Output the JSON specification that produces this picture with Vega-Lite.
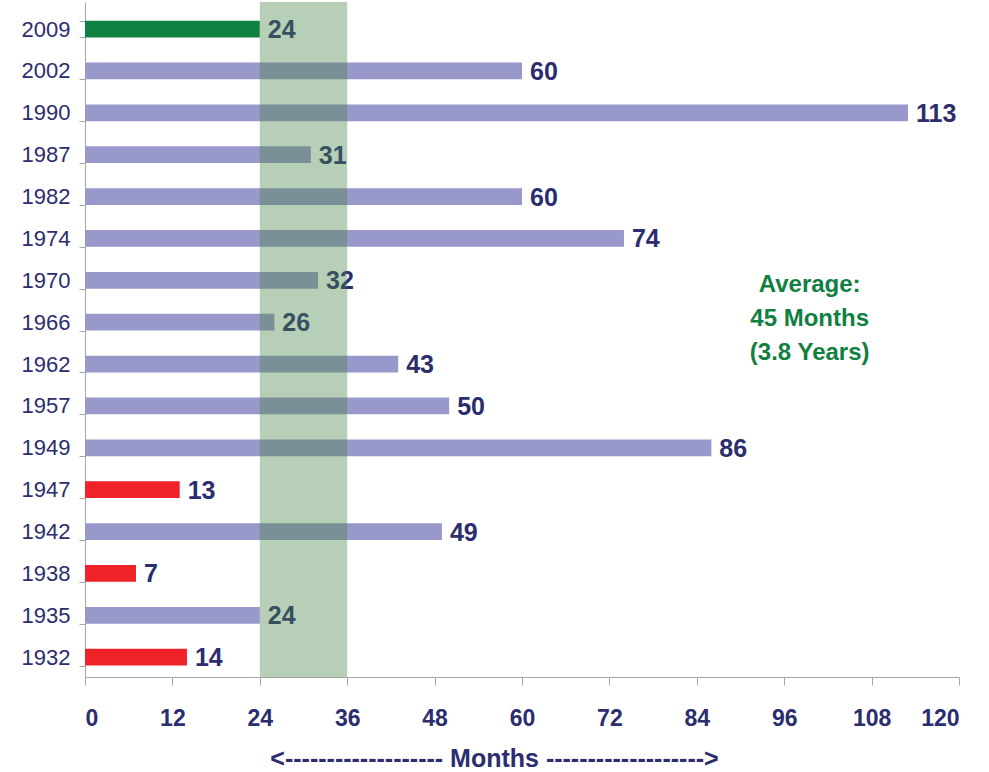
{
  "$schema": "https://vega.github.io/schema/vega-lite/v6.json",
  "autosize": "none",
  "width": 874,
  "height": 675,
  "padding": {"left": 85, "top": 2, "right": 30, "bottom": 95},
  "background": "white",
  "config": {
    "view": {"stroke": null},
    "font": "Liberation Sans"
  },
  "datasets": {
    "bars": [
      {"year": "2009", "months": 24, "kind": "current"},
      {"year": "2002", "months": 60, "kind": "normal"},
      {"year": "1990", "months": 113, "kind": "normal"},
      {"year": "1987", "months": 31, "kind": "normal"},
      {"year": "1982", "months": 60, "kind": "normal"},
      {"year": "1974", "months": 74, "kind": "normal"},
      {"year": "1970", "months": 32, "kind": "normal"},
      {"year": "1966", "months": 26, "kind": "normal"},
      {"year": "1962", "months": 43, "kind": "normal"},
      {"year": "1957", "months": 50, "kind": "normal"},
      {"year": "1949", "months": 86, "kind": "normal"},
      {"year": "1947", "months": 13, "kind": "short"},
      {"year": "1942", "months": 49, "kind": "normal"},
      {"year": "1938", "months": 7, "kind": "short"},
      {"year": "1935", "months": 24, "kind": "normal"},
      {"year": "1932", "months": 14, "kind": "short"}
    ],
    "band": [{"start": 24, "end": 36}],
    "note": [{"year": "1966", "months": 99.5, "text": "Average:\n45 Months\n(3.8 Years)"}]
  },
  "encoding": {
    "y": {
      "field": "year",
      "type": "nominal",
      "sort": null,
      "scale": {
        "domain": ["2009","2002","1990","1987","1982","1974","1970","1966","1962","1957","1949","1947","1942","1938","1935","1932"],
        "paddingInner": 0.6,
        "paddingOuter": 0.36,
        "align": 0.62
      },
      "axis": {
        "title": null,
        "domainColor": "#A6A6A6",
        "tickColor": "#A6A6A6",
        "tickBand": "extent",
        "tickSize": 6,
        "labelFontSize": 22,
        "labelColor": "#2B2D6E",
        "labelPadding": 9,
        "labelFont": "Liberation Sans"
      }
    }
  },
  "layer": [
    {
      "data": {"name": "bars"},
      "mark": {"type": "bar"},
      "encoding": {
        "x": {
          "field": "months",
          "type": "quantitative",
          "scale": {"domain": [0, 120], "nice": false},
          "axis": {
            "values": [0,12,24,36,48,60,72,84,96,108,120],
            "grid": false,
            "title": "<------------------- Months ------------------->",
            "titleFontSize": 25,
            "titleFontWeight": "bold",
            "titleColor": "#2B2D6E",
            "titlePadding": 16,
            "titleX": 409,
            "domainColor": "#A6A6A6",
            "tickColor": "#A6A6A6",
            "tickSize": 8,
            "labelFontSize": 23,
            "labelFontWeight": "bold",
            "labelColor": "#2B2D6E",
            "labelPadding": 22
          }
        },
        "color": {
          "field": "kind",
          "type": "nominal",
          "scale": {"domain": ["current", "normal", "short"], "range": ["#108040", "#9898CA", "#EE2228"]},
          "legend": null
        }
      }
    },
    {
      "data": {"name": "bars"},
      "mark": {"type": "text", "align": "left", "baseline": "middle", "dx": 8, "dy": 1, "fontSize": 25, "fontWeight": "bold", "color": "#2B2D6E"},
      "encoding": {
        "x": {"field": "months", "type": "quantitative"},
        "text": {"field": "months", "type": "quantitative"}
      }
    },
    {
      "data": {"name": "band"},
      "mark": {"type": "rect", "color": "#4A854A", "opacity": 0.4},
      "encoding": {
        "y": null,
        "x": {"field": "start", "type": "quantitative"},
        "x2": {"field": "end"}
      }
    },
    {
      "data": {"name": "note"},
      "mark": {"type": "text", "align": "center", "baseline": "middle", "lineBreak": "\n", "lineHeight": 34, "dy": -37, "fontSize": 24, "fontWeight": "bold", "color": "#108040"},
      "encoding": {
        "x": {"field": "months", "type": "quantitative"},
        "text": {"field": "text"}
      }
    }
  ]
}
